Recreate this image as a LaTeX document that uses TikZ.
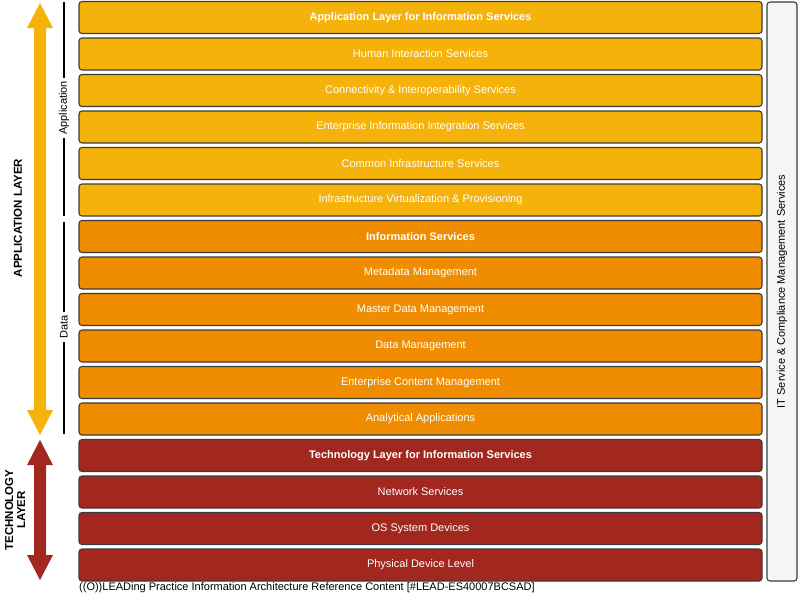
\documentclass[tikz,border=0pt]{standalone}
\usepackage{fontspec}
\setmainfont{Liberation Sans}
\usetikzlibrary{positioning}
\definecolor{appyellow}{HTML}{F5B20A}
\definecolor{dataorange}{HTML}{EF8C00}
\definecolor{techred}{HTML}{A1271F}
\definecolor{sidegray}{HTML}{F4F5F7}
\definecolor{edgegray}{HTML}{3C3C3C}
\tikzset{
  layerbox/.style={draw=edgegray, line width=1.1pt, rounded corners=3pt,
    minimum width=683, minimum height=32, inner sep=0pt, text=white,
    font=\fontsize{11}{13}\selectfont},
  appbox/.style={layerbox, fill=appyellow},
  databox/.style={layerbox, fill=dataorange},
  techbox/.style={layerbox, fill=techred},
  headbox/.style={font=\bfseries\fontsize{11}{13}\selectfont},
  sidelabel/.style={rotate=90, font=\fontsize{11}{13}\selectfont},
  biglabel/.style={rotate=90, font=\bfseries\fontsize{11.5}{12}\selectfont, align=center}
}
\begin{document}
\begin{tikzpicture}[x=1pt, y=-1pt]
                \useasboundingbox[fill=white] (0,0) rectangle (800,595);
                % layer stack
                \node[appbox, headbox] (app) at (420.5,17.5) {Application Layer for Information Services};
                \node[appbox] (human) at (420.5,54) {Human Interaction Services};
                \node[appbox] (conn) at (420.5,90.5) {Connectivity \& Interoperability Services};
                \node[appbox] (eiis) at (420.5,127) {Enterprise Information Integration Services};
                \node[appbox] (infra) at (420.5,163.5) {Common Infrastructure Services};
                \node[appbox] (virt) at (420.5,200) {Infrastructure Virtualization \& Provisioning};
                \node[databox, headbox] (info) at (420.5,236.5) {Information Services};
                \node[databox] (meta) at (420.5,273) {Metadata Management};
                \node[databox] (master) at (420.5,309.5) {Master Data Management};
                \node[databox] (datam) at (420.5,346) {Data Management};
                \node[databox] (ecm) at (420.5,382.5) {Enterprise Content Management};
                \node[databox] (analyt) at (420.5,419) {Analytical Applications};
                \node[techbox, headbox] (tech) at (420.5,455.5) {Technology Layer for Information Services};
                \node[techbox] (net) at (420.5,492) {Network Services};
                \node[techbox] (os) at (420.5,528.5) {OS System Devices};
                \node[techbox] (phys) at (420.5,565) {Physical Device Level};
                % side column
                \draw[draw=edgegray, line width=1.1pt, rounded corners=3pt, fill=sidegray] (767,2) rectangle (797,581);
                \node[sidelabel] (itsm) at (782,291.5) {IT Service \& Compliance Management Services};
                % brackets
                \node[sidelabel] (applbl) at (64,108) {Application};
                \draw[line width=1.2pt] (64,2) -- (applbl.east);
                \draw[line width=1.2pt] (applbl.west) -- (64,216);
                \node[sidelabel] (datalbl) at (64,327) {Data};
                \draw[line width=1.2pt] (64,222) -- (datalbl.east);
                \draw[line width=1.2pt] (datalbl.west) -- (64,434);
                % arrows
                \fill[appyellow] (40,3) -- (53,28) -- (46,28) -- (46,410) -- (53,410) -- (40,435)
                    -- (27,410) -- (34,410) -- (34,28) -- (27,28) -- cycle;
                \fill[techred] (40,440) -- (53,465) -- (46,465) -- (46,555) -- (53,555) -- (40,580)
                    -- (27,555) -- (34,555) -- (34,465) -- (27,465) -- cycle;
                \node[biglabel] (applayer) at (18,218) {APPLICATION LAYER};
                \node[biglabel] (techlayer) at (15,510) {TECHNOLOGY\\LAYER};
                % footer
                \node[anchor=west, inner sep=0pt, font=\fontsize{11}{12}\selectfont] (foot) at (79,588) {((O))LEADing Practice Information Architecture Reference Content [\#LEAD-ES40007BCSAD]};
            \end{tikzpicture}
\end{document}
